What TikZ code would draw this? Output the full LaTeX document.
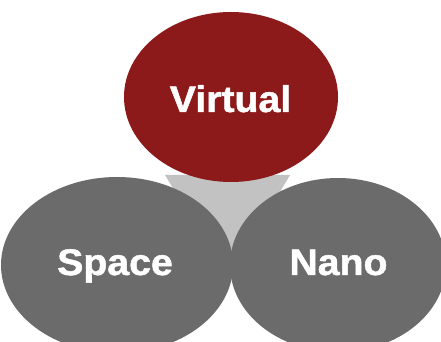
\documentclass[tikz,border=0pt]{standalone}
\usepackage{fontspec}
\setmainfont{Liberation Sans}
\newfontfamily\heavyfont{Liberation Sans Bold}[FakeBold=1.3]
\usetikzlibrary{shapes.geometric}
\definecolor{vred}{HTML}{8C1A1A}
\definecolor{cgray}{HTML}{6B6B6B}
\definecolor{tgray}{HTML}{C2C2C2}
\begin{document}
\begin{tikzpicture}[x=1pt,y=1pt,
  blob/.style={ellipse, draw=none, inner sep=0pt},
  lbl/.style={anchor=base, text=white, font=\heavyfont\fontsize{37}{40}\selectfont, inner sep=0pt, xscale=1.06}]
\useasboundingbox (0,0) rectangle (441,342);
\clip (0,0) rectangle (441,342);
\fill[white] (0,0) rectangle (441,342);
\coordinate (t1) at (165,167);
\coordinate (t2) at (290,167);
\coordinate (t3) at (228,62);
\fill[tgray] (t1) -- (t2) -- (t3) -- cycle;
\node[blob, fill=cgray, minimum width=232pt, minimum height=176pt] (space) at (117,77) {};
\node[blob, fill=cgray, minimum width=216pt, minimum height=174pt] (nano) at (338,77) {};
\node[blob, fill=vred, minimum width=214pt, minimum height=170pt] (virtual) at (231,245) {};
\node[lbl] (tv) at (230.5,230) {Virtual};
\node[lbl] (ts) at (115,67) {Space};
\node[lbl] (tn) at (338.5,67) {Nano};
\end{tikzpicture}
\end{document}
